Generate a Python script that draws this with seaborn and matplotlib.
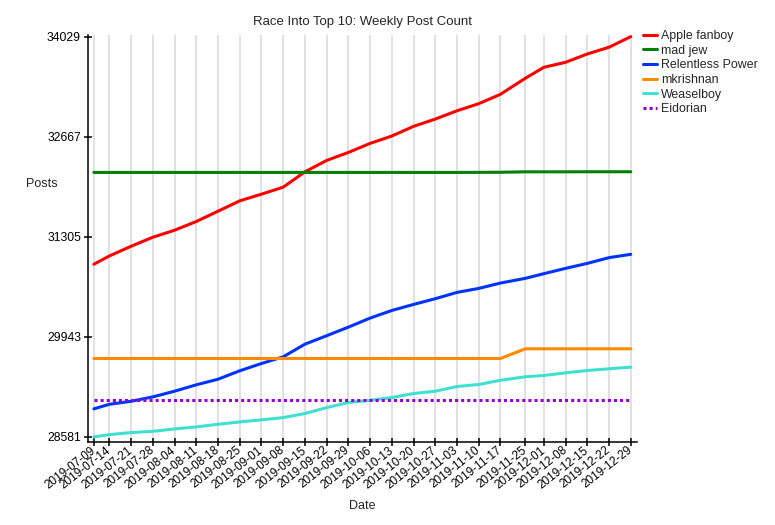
import pandas as pd
import seaborn as sns
import matplotlib
matplotlib.use("Agg")
import matplotlib.pyplot as plt
import matplotlib.dates as mdates

dates = ["2019-07-09", "2019-07-14", "2019-07-21", "2019-07-28", "2019-08-04",
         "2019-08-11", "2019-08-18", "2019-08-25", "2019-09-01", "2019-09-08",
         "2019-09-15", "2019-09-22", "2019-09-29", "2019-10-06", "2019-10-13",
         "2019-10-20", "2019-10-27", "2019-11-03", "2019-11-10", "2019-11-17",
         "2019-11-25", "2019-12-01", "2019-12-08", "2019-12-15", "2019-12-22",
         "2019-12-29"]

apple_fanboy = [30931, 31044, 31176, 31299, 31394, 31513, 31653, 31794, 31885, 31980,
                32189, 32344, 32453, 32576, 32676, 32808, 32907, 33020, 33116, 33244,
                33462, 33612, 33680, 33793, 33885, 34029]
mad_jew = [32181, 32181, 32181, 32181, 32181, 32181, 32181, 32181, 32181, 32181,
           32181, 32181, 32181, 32181, 32181, 32181, 32181, 32181, 32182, 32183,
           32189, 32189, 32189, 32190, 32190, 32190]
relentless_power = [28963, 29025, 29066, 29126, 29203, 29290, 29366, 29481, 29580, 29671,
                    29843, 29958, 30075, 30198, 30302, 30384, 30462, 30548, 30602, 30675,
                    30739, 30803, 30875, 30943, 31021, 31066]
mkrishnan = [29648] * 20 + [29780] * 6
weaselboy = [28581, 28612, 28640, 28657, 28690, 28717, 28753, 28785, 28813, 28844,
             28899, 28980, 29049, 29080, 29117, 29171, 29203, 29267, 29294, 29352,
             29399, 29417, 29453, 29485, 29508, 29530]
eidorian = [29085] * 26

users = ["Apple fanboy", "mad jew", "Relentless Power", "mkrishnan", "Weaselboy", "Eidorian"]
series = [apple_fanboy, mad_jew, relentless_power, mkrishnan, weaselboy, eidorian]
colors = ["#ff0000", "#008000", "#0033ff", "#ff8c00", "#40e0d0", "#9400d3"]

y_ticks = [28581, 29943, 31305, 32667, 34029]

rows = []
for user, vals in zip(users, series):
    for d, v in zip(dates, vals):
        rows.append({"Date": pd.Timestamp(d), "Posts": v, "User": user})
df = pd.DataFrame(rows)

sns.set_style("white")
plt.rcParams["font.family"] = ["Liberation Sans", "DejaVu Sans"]
plt.rcParams["font.size"] = 9

fig = plt.figure(figsize=(7.75, 5.25), dpi=100)
ax = fig.add_axes([0.1135, 0.158, 0.708, 0.775])

dash_map = {u: "" for u in users}
dash_map["Eidorian"] = (1, 1)
sns.lineplot(data=df, x="Date", y="Posts", hue="User", style="User",
             hue_order=users, style_order=users, palette=dict(zip(users, colors)),
             dashes=dash_map, linewidth=2.2, ax=ax)
for ln in ax.get_lines():
    ln.set_dash_capstyle("butt")

# x axis: one tick per date
tick_dates = [pd.Timestamp(d) for d in dates]
ax.set_xticks(tick_dates)
ax.xaxis.set_major_formatter(mdates.DateFormatter("%Y-%m-%d"))
ax.set_xlim(tick_dates[0] - pd.Timedelta(days=1.9), tick_dates[-1] + pd.Timedelta(days=1.9))
ax.tick_params(axis="x", labelsize=8.5)
for lbl in ax.get_xticklabels():
    lbl.set_rotation(38)
    lbl.set_ha("right")
    lbl.set_va("center")
    lbl.set_rotation_mode("anchor")

ax.set_yticks(y_ticks)
ax.set_ylim(28581 - 70, 34029 + 20)
ax.tick_params(axis="y", labelsize=8.7)

ax.grid(axis="x", color="#d8d8d8", linewidth=1.1)
ax.grid(axis="y", visible=False)
ax.tick_params(axis="both", direction="inout", length=6, width=1.1,
               bottom=True, left=True, colors="black", pad=2)
for side in ["top", "right"]:
    ax.spines[side].set_visible(False)
for side in ["left", "bottom"]:
    ax.spines[side].set_color("black")
    ax.spines[side].set_linewidth(1.1)

ax.set_title("Race Into Top 10: Weekly Post Count", fontsize=9.5, y=1.033, pad=0, va="center")
ax.set_xlabel("Date", fontsize=9)
ax.xaxis.set_label_coords(0.499, -0.158)
ax.xaxis.label.set_va("center")
ax.set_ylabel("Posts", fontsize=9, rotation=0, ha="center", va="center")
ax.yaxis.set_label_coords(-0.084, 0.633)

ax.legend(loc="upper left", bbox_to_anchor=(1.0115, 1.013), frameon=False,
          borderaxespad=0, borderpad=0, handlelength=1.1, handletextpad=0.35,
          labelspacing=0.22, fontsize=8.9)

fig.savefig("out.png", dpi=100)
